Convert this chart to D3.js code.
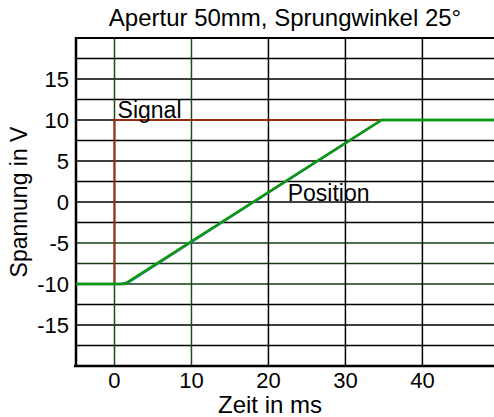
<!DOCTYPE html>
<html>
<head>
<meta charset="utf-8">
<title>Apertur 50mm</title>
<script src="https://cdn.jsdelivr.net/npm/d3@7"></script>
<style>
  body { margin: 0; background: #fff; }
  text { font-family: "Liberation Sans", Arial, sans-serif; fill: #000; }
</style>
</head>
<body>
<svg width="494" height="417"></svg>
<script>
// data (time in ms, voltage in V)
var signalT = [-5, 0, 0, 50];
var signalV = [-10, -10, 10, 10];
var measT = [-5, 0.8, 1.8, 2.8, 34.7, 50];
var measV = [-10, -10, -9.8, -9.2, 10, 10];
var posT = [-5, 1.3, 34.7, 50];
var posV = [-10, -10, 10, 10];
var xTicks = [0, 10, 20, 30, 40];
var yTicks = [-15, -10, -5, 0, 5, 10, 15];
var yGrid = [-17.5, -15, -12.5, -10, -7.5, -5, -2.5, 0, 2.5, 5, 7.5, 10, 12.5, 15, 17.5];
var labels = [{ t: 0.4, v: 10.2, text: "Signal" }, { t: 22.5, v: 0.1, text: "Position" }];

var svg = d3.select("svg");
var x = d3.scaleLinear().domain([-5, 49.3]).range([76, 494]);
var y = d3.scaleLinear().domain([-20, 20]).range([366, 38]);

function zip(ts, vs) { return ts.map(function (t, i) { return [t, vs[i]]; }); }
var line = d3.line().x(function (d) { return x(d[0]); }).y(function (d) { return y(d[1]); });

// grid
svg.append("g").selectAll("line").data(yGrid).enter().append("line")
    .attr("x1", x(-5)).attr("x2", 494)
    .attr("y1", function (d) { return y(d); }).attr("y2", function (d) { return y(d); })
    .attr("stroke", function (d) { return (d <= -5 && d >= -10) ? "#143c14" : "#000"; })
    .attr("stroke-width", 1.5);
svg.append("g").selectAll("line").data(xTicks).enter().append("line")
    .attr("x1", function (d) { return x(d); }).attr("x2", function (d) { return x(d); })
    .attr("y1", y(20)).attr("y2", y(-20))
    .attr("stroke", function (d) { return d < 20 ? "#1e4a1e" : "#000"; })
    .attr("stroke-width", 1.5);

// frame
svg.append("line").attr("x1", x(-5)).attr("x2", 494).attr("y1", y(20)).attr("y2", y(20))
    .attr("stroke", "#000").attr("stroke-width", 2);
svg.append("line").attr("x1", x(-5) - 2).attr("x2", 494).attr("y1", y(-20)).attr("y2", y(-20))
    .attr("stroke", "#000").attr("stroke-width", 2.5);
svg.append("line").attr("x1", x(-5)).attr("x2", x(-5)).attr("y1", y(20) - 1).attr("y2", y(-20) + 1)
    .attr("stroke", "#000").attr("stroke-width", 2.5);

// series
svg.append("path").attr("d", line(zip(signalT, signalV)))
    .attr("fill", "none").attr("stroke", "#9a2a10").attr("stroke-width", 2);
svg.append("path").attr("d", line(zip(measT, measV)))
    .attr("fill", "none").attr("stroke", "#2f6fb8").attr("stroke-width", 2.5);
svg.append("path").attr("d", line(zip(posT, posV)))
    .attr("fill", "none").attr("stroke", "#0a9a0a").attr("stroke-width", 2.5);

// tick labels
svg.append("g").selectAll("text").data(yTicks).enter().append("text")
    .attr("x", 69).attr("y", function (d) { return y(d); }).attr("dy", "0.35em")
    .attr("text-anchor", "end").style("font-size", "22px")
    .text(function (d) { return d; });
svg.append("g").selectAll("text").data(xTicks).enter().append("text")
    .attr("x", function (d) { return x(d); }).attr("y", 388)
    .attr("text-anchor", "middle").style("font-size", "22px")
    .text(function (d) { return d; });

// annotations
svg.append("g").selectAll("text").data(labels).enter().append("text")
    .attr("x", function (d) { return x(d.t); }).attr("y", function (d) { return y(d.v); })
    .style("font-size", "23px")
    .text(function (d) { return d.text; });

// titles
svg.append("text").attr("x", 285).attr("y", 26).attr("text-anchor", "middle")
    .style("font-size", "24px").text("Apertur 50mm, Sprungwinkel 25°");
svg.append("text").attr("x", 270).attr("y", 413).attr("text-anchor", "middle")
    .style("font-size", "24px").text("Zeit in ms");
svg.append("text").attr("transform", "translate(27," + y(0) + ") rotate(-90)")
    .attr("text-anchor", "middle").style("font-size", "23px").text("Spannung in V");
</script>
</body>
</html>
